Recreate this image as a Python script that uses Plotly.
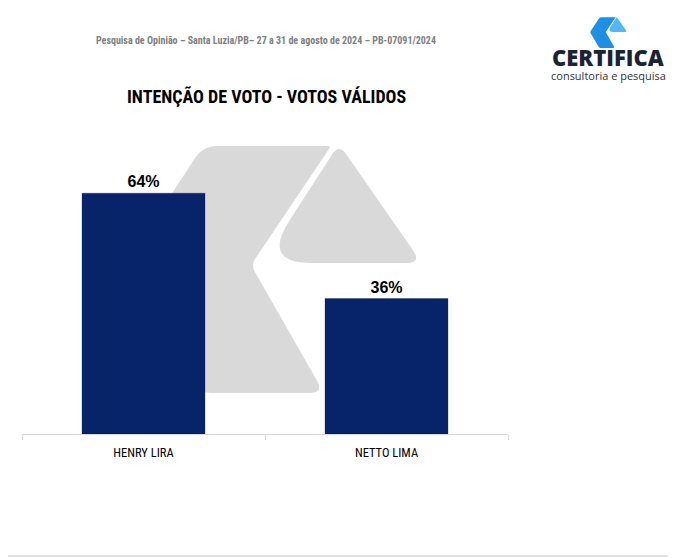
import math
import plotly.graph_objects as go

# page body has an 8px default margin; work in screenshot pixels and compensate
OX, OY = 8, 8
W, H = 676 - OX, 558 - OY

candidates = ["HENRY LIRA", "NETTO LIMA"]
votes = [64, 36]
value_labels = ["64%", "36%"]

header_text = "Pesquisa de Opinião – Santa Luzia/PB– 27 a 31 de agosto de 2024 – PB-07091/2024"
title_text = "INTENÇÃO DE VOTO - VOTOS VÁLIDOS"
brand_name = "CERTIFICA"
brand_tagline = "consultoria e pesquisa"

BAR_COLOR = "#07246a"
WM_COLOR = "#d9d9d9"
NARROW = "Liberation Sans Narrow, Roboto Condensed, Arial Narrow, Roboto, sans-serif"


def px(x):
    return (x - OX) / W


def py(y):
    return 1 - (y - OY) / H


def rounded_path(verts, scale=1.0, dx=0.0, dy=0.0):
    pts = [((x * scale + dx), (y * scale + dy), r * scale) for x, y, r in verts]
    n = len(pts)
    parts = []
    for i in range(n):
        ppx, ppy, _ = pts[i - 1]
        vx, vy, r = pts[i]
        nx, ny, _ = pts[(i + 1) % n]
        lp = math.hypot(ppx - vx, ppy - vy)
        ln = math.hypot(nx - vx, ny - vy)
        ax, ay = vx + r * (ppx - vx) / lp, vy + r * (ppy - vy) / lp
        bx, by = vx + r * (nx - vx) / ln, vy + r * (ny - vy) / ln
        cmd = "M" if i == 0 else "L"
        parts.append(f"{cmd}{px(ax):.5f},{py(ay):.5f}")
        parts.append(f"Q{px(vx):.5f},{py(vy):.5f} {px(bx):.5f},{py(by):.5f}")
    return " ".join(parts) + " Z"


left_piece = [(203, 146, 14), (331, 146, 3), (251, 265, 8), (324, 393, 14), (200, 393, 10), (125, 265, 10)]
right_piece = [(339, 144, 12), (422, 263, 16), (262, 263, 50)]

LS = 0.125
LDX, LDY = 590 - 125 * LS, 17 - 144 * LS

fig = go.Figure()
fig.add_trace(go.Bar(
    x=candidates, y=votes, text=value_labels, textposition="outside",
    textfont=dict(family="Liberation Sans, Arial, sans-serif", size=16, color="#000000", weight="bold"),
    marker=dict(color=BAR_COLOR, line=dict(color="rgba(0,0,0,0.25)", width=1)),
    cliponaxis=False, hoverinfo="skip",
))

shapes = [
    dict(type="path", xref="paper", yref="paper", path=rounded_path(left_piece),
         fillcolor=WM_COLOR, line=dict(width=0), layer="below"),
    dict(type="path", xref="paper", yref="paper", path=rounded_path(right_piece),
         fillcolor=WM_COLOR, line=dict(width=0), layer="below"),
    dict(type="path", xref="paper", yref="paper", path=rounded_path(left_piece, LS, LDX, LDY),
         fillcolor="#1f8fe6", line=dict(width=0), layer="above"),
    dict(type="path", xref="paper", yref="paper", path=rounded_path(right_piece, LS, LDX, LDY),
         fillcolor="#52b8f2", line=dict(width=0), layer="above"),
    dict(type="line", xref="paper", yref="paper", x0=px(0), x1=1, y0=py(556), y1=py(556),
         line=dict(color="#e3e3e3", width=2), layer="above"),
]

annotations = [
    dict(text=header_text, x=px(266), y=py(40), xref="paper", yref="paper", showarrow=False,
         xanchor="center", yanchor="middle",
         font=dict(family=NARROW, size=10, color="#808080", weight="bold")),
    dict(text=title_text, x=px(266), y=py(96), xref="paper", yref="paper", showarrow=False,
         xanchor="center", yanchor="middle",
         font=dict(family=NARROW, size=18, color="#000000", weight="bold")),
    dict(text=brand_name, x=px(608), y=py(57), xref="paper", yref="paper", showarrow=False,
         xanchor="center", yanchor="middle", borderpad=0,
         font=dict(family="Open Sans, sans-serif", size=22, color="#1b2236", weight=800)),
    dict(text=brand_tagline, x=px(608), y=py(75), xref="paper", yref="paper", showarrow=False,
         xanchor="center", yanchor="middle", borderpad=0,
         font=dict(family="Open Sans, sans-serif", size=11, color="#333333")),
]

fig.update_layout(
    width=W, height=H,
    margin=dict(l=0, r=0, t=0, b=0, pad=0),
    paper_bgcolor="white", plot_bgcolor="rgba(0,0,0,0)",
    bargap=0.494, showlegend=False,
    shapes=shapes, annotations=annotations,
    xaxis=dict(domain=[px(22), px(508)], showline=True, linecolor="#d9d9d9", linewidth=1,
               ticks="outside", tickson="boundaries", ticklen=5, tickcolor="#d9d9d9",
               ticklabelstandoff=7,
               showgrid=False, zeroline=False, automargin=False,
               tickfont=dict(family=NARROW, size=12.5, color="#000000")),
    yaxis=dict(domain=[py(434), py(133)], range=[0, 80], visible=False,
               showgrid=False, zeroline=False, automargin=False),
)

fig.write_html("out.html")
